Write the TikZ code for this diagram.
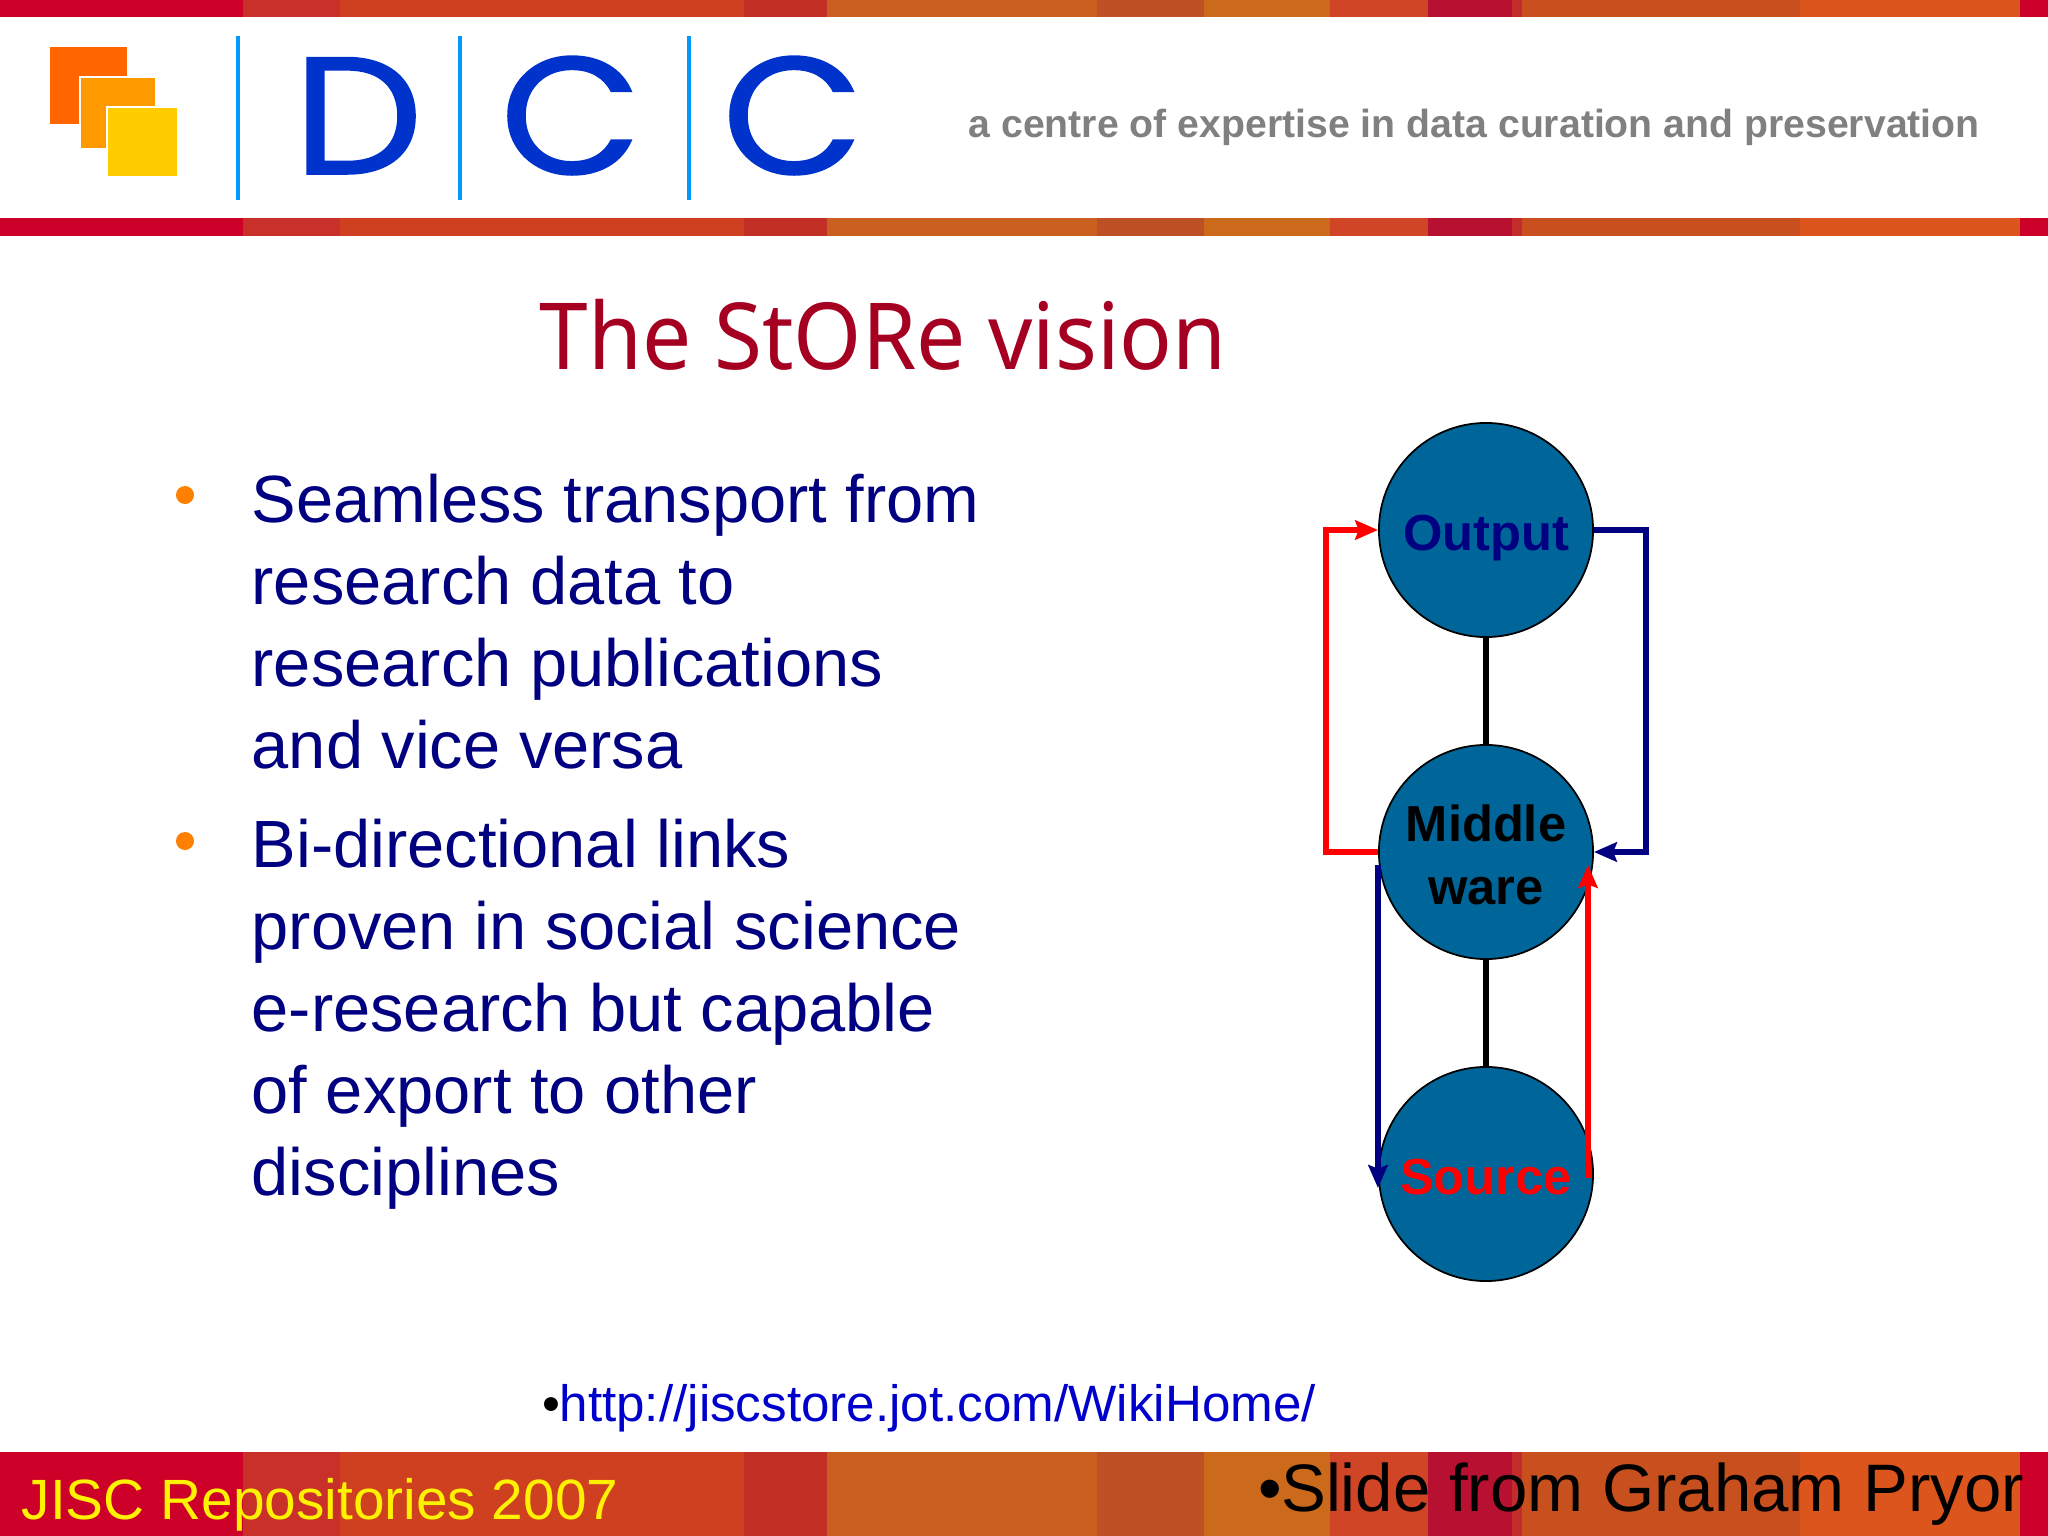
\documentclass[tikz,border=0pt]{standalone}
\usepackage{fontspec}
\usetikzlibrary{arrows.meta}
\setmainfont{Liberation Sans}
\newfontfamily\titlefont[FakeStretch=0.945]{Noto Sans}
\newfontfamily\logofont[FakeStretch=1.1, FakeBold=0.9]{Poppins}
\definecolor{navytext}{HTML}{000080}
\definecolor{titlered}{HTML}{A50021}
\definecolor{discblue}{HTML}{006699}
\definecolor{logoblue}{HTML}{0033CC}
\definecolor{rulegrey}{HTML}{808080}
\definecolor{linkblue}{HTML}{0000CC}
\definecolor{logoA}{HTML}{FF6600}
\definecolor{logoB}{HTML}{FF9900}
\definecolor{logoC}{HTML}{FFCC00}
\definecolor{ruleblue}{HTML}{0099FF}
\tikzset{
    disc/.style={circle, draw=black, line width=0.5pt, fill=discblue, minimum size=2.14cm, inner sep=0pt, align=center, font=\fontsize{14.4}{17.8}\selectfont\bfseries},
    txt/.style={inner sep=0pt, anchor=base west},
    bodytxt/.style={txt, text=navytext, align=left, anchor=north west, font=\fontsize{19}{23.35}\selectfont},
    dot/.style={circle, fill=#1, inner sep=0pt, minimum size=0.18cm},
    link/.style={line width=1.6pt, -{Stealth[length=6.5pt, width=5.5pt, inset=1pt]}},
    logoletter/.style={inner sep=0pt, anchor=base, text=logoblue, font=\logofont\fontsize{47.5}{48}\selectfont}
}
\begin{document}
\begin{tikzpicture}[>=stealth, x=0.01cm, y=-0.01cm]
\useasboundingbox (0,0) rectangle (2048,1536);

% bands
\foreach \ya/\yb in {0/17, 218/236, 1452/1536}
{
    \foreach \xa/\xb/\col in {0/243/CC0029, 243/340/C9302A, 340/744/CF4020, 744/827/C23025, 827/1097/C96020, 1097/1204/BD5025, 1204/1330/CC6A1C, 1330/1428/CF4525, 1428/1512/B81030, 1512/1522/C22C2A, 1522/1800/C8501F, 1800/2020/DC551C, 2020/2048/CC0029}
    {
        \definecolor{bandcol}{HTML}{\col}
        \fill[bandcol](\xa,\ya)rectangle(\xb,\yb);
    }
}

% logo
\fill[logoA](50,47)rectangle(127,124);
\draw[white, line width=0.6pt, fill=logoB](80,77)rectangle(156,149);
\draw[white, line width=0.6pt, fill=logoC](107,107)rectangle(178,177);
\foreach \x in {238,460,689}
{
    \draw[ruleblue, line width=1.1pt](\x,36)--(\x,200);
}
\node[logoletter] (letterD) at (358,174) {D};
\node[logoletter] (letterC) at (571,174) {C};
\node[logoletter] (letterCC) at (793,174) {C};
\node[txt, text=rulegrey, font=\fontsize{11.15}{13}\selectfont\bfseries] (motto) at (968,137) {a centre of expertise in data curation and preservation};

% text
\node[txt, text=titlered, font=\titlefont\fontsize{26.3}{27}\selectfont] (title) at (539,369) {The StORe vision};
\node[dot=orange] (dotA) at (185,495) {};
\node[dot=orange] (dotB) at (185,841) {};
\node[bodytxt] (pointA) at (251,473) {Seamless transport from\\research data to\\research publications\\and vice versa};
\node[bodytxt] (pointB) at (251,818) {Bi-directional links\\proven in social science\\e-research but capable\\of export to other\\disciplines};

% discs
\node[disc, text=navytext, text height=11.4pt, text depth=0pt] (out) at (1486,530) {Output};
\node[disc, text=black] (mid) at (1486,852) {\rule{0pt}{12pt}Middle\\ware};
\node[disc, text=red, text height=11.4pt, text depth=0pt] (src) at (1486,1174) {Source};
\coordinate (leftc) at (1326,852);
\coordinate (rightc) at (1646,530);
\coordinate (midL) at (1378,865);
\coordinate (midR) at (1588,865);
\coordinate (srcL) at (1378,1188);
\coordinate (srcR) at (1588,1178);

\draw[line width=1.6pt] (out)--(mid);
\draw[line width=1.6pt] (mid)--(src);
\draw[link, red] (mid.west)--(leftc)|-(out.west);
\draw[link, navytext] (out.east)--(rightc)|-(mid.east);
\draw[link, navytext] (midL)--(srcL);
\draw[link, red] (srcR)--(midR);

% footer
\node[txt, font=\fontsize{14.55}{17}\selectfont] (url) at (542,1421) {\textbullet\kern-0.01cm\textcolor{linkblue}{http://jiscstore.jot.com/WikiHome/}};
\node[txt, text=yellow, font=\fontsize{16.15}{19}\selectfont] (event) at (21,1519) {JISC Repositories 2007};
\node[txt, font=\fontsize{19.1}{23}\selectfont] (credit) at (1258,1511) {\textbullet\kern-0.01cm Slide from Graham Pryor};
\end{tikzpicture}
\end{document}
